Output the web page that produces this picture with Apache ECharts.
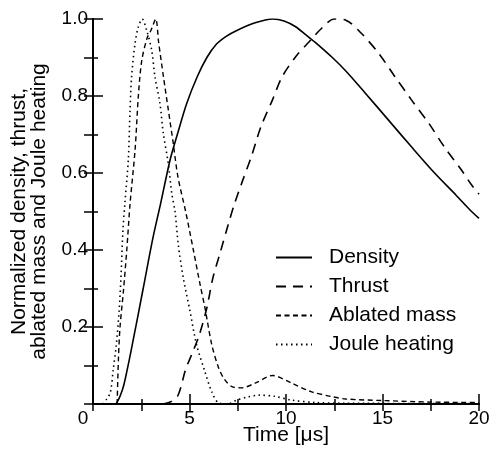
<!DOCTYPE html>
<html>
<head>
<meta charset="utf-8">
<script src="https://cdn.jsdelivr.net/npm/echarts@6/dist/echarts.min.js"></script>
<style>
  html, body { margin: 0; padding: 0; background: #fff; }
  #chart { width: 491px; height: 450px; }
</style>
</head>
<body>
<div id="chart"></div>
<script>
// values: [time in us, normalized value]
const density = [
  [1.2, 0], [1.4, 0.02], [1.6, 0.05], [2.0, 0.145], [2.6, 0.30], [3.1, 0.43],
  [3.5, 0.52], [4.0, 0.635], [4.4, 0.705], [4.85, 0.78], [5.4, 0.85], [5.9, 0.90],
  [6.4, 0.935], [6.9, 0.955], [7.4, 0.969], [8.4, 0.99], [9.3, 1.0], [9.9, 0.995],
  [10.5, 0.98], [11.0, 0.96], [11.5, 0.94], [12.4, 0.90], [13.1, 0.865],
  [14.1, 0.808], [15.3, 0.738], [16.5, 0.668], [17.7, 0.600], [18.8, 0.543],
  [19.5, 0.506], [20, 0.482]
];
const thrust = [
  [3.6, 0], [4.0, 0.005], [4.4, 0.022], [4.8, 0.09], [5.1, 0.127], [5.5, 0.178],
  [5.9, 0.25], [6.2, 0.325], [6.6, 0.395], [7.0, 0.465], [7.3, 0.515], [7.7, 0.573],
  [8.2, 0.642], [8.7, 0.72], [9.3, 0.79], [9.8, 0.85], [10.5, 0.902], [11.2, 0.941],
  [11.85, 0.976], [12.5, 1.0], [13.1, 0.997], [13.9, 0.963], [14.8, 0.911],
  [15.65, 0.85], [16.5, 0.79], [17.4, 0.729], [18.2, 0.668], [19.1, 0.607],
  [19.6, 0.57], [20, 0.545]
];
const ablatedMass = [
  [1.25, 0], [1.32, 0.12], [1.4, 0.2], [1.57, 0.29], [1.75, 0.4], [1.92, 0.52],
  [2.18, 0.66], [2.35, 0.8], [2.52, 0.89], [2.8, 0.95], [3.0, 0.97], [3.25, 1.0],
  [3.4, 0.94], [3.65, 0.85], [3.9, 0.765], [4.15, 0.68], [4.4, 0.59], [4.8, 0.5],
  [5.2, 0.4], [5.55, 0.31], [5.8, 0.25], [6.15, 0.155], [6.5, 0.095], [6.8, 0.065],
  [7.2, 0.045], [7.7, 0.042], [8.4, 0.054], [9.3, 0.074], [10.3, 0.054],
  [11.3, 0.032], [12.4, 0.019], [13.1, 0.013], [15, 0.009], [17.5, 0.005], [20, 0.004]
];
const jouleHeating = [
  [0.5, 0], [0.7, 0.012], [0.9, 0.03], [1.05, 0.09], [1.2, 0.15], [1.35, 0.24],
  [1.45, 0.33], [1.55, 0.45], [1.65, 0.52], [1.83, 0.635], [1.92, 0.765], [2.0, 0.85],
  [2.18, 0.937], [2.35, 0.98], [2.55, 1.0], [2.78, 0.971], [3.04, 0.919], [3.21, 0.85],
  [3.47, 0.78], [3.64, 0.704], [3.9, 0.625], [4.08, 0.547], [4.25, 0.5], [4.42, 0.413],
  [4.68, 0.327], [5.03, 0.24], [5.37, 0.153], [5.8, 0.084], [6.15, 0.032], [6.5, 0.003],
  [7.0, 0], [7.44, 0.01], [8.0, 0.018], [8.6, 0.023], [9.4, 0.02], [10.3, 0.01],
  [11.5, 0.004], [13, 0.002], [20, 0.001]
];
const seriesNames = ['Density', 'Thrust', 'Ablated mass', 'Joule heating'];

const font = 'Liberation Sans, Arial, sans-serif';
const axisLine = { lineStyle: { color: '#000', width: 2 } };

const chart = echarts.init(document.getElementById('chart'));

const line = (name, data, type, width) => ({
  name: name,
  type: 'line',
  data: data,
  symbol: 'none',
  smooth: 0.3,
  color: '#000',
  xAxisIndex: 0,
  yAxisIndex: 0,
  lineStyle: { color: '#000', width: width, type: type, cap: 'butt' }
});

chart.setOption({
  animation: false,
  backgroundColor: '#fff',
  grid: { left: 93, right: 12, top: 19, bottom: 46, outerBoundsMode: 'none', containLabel: false },
  legend: {
    orient: 'vertical',
    left: 275,
    top: 247,
    padding: 0,
    itemWidth: 36,
    itemHeight: 20,
    itemGap: 8,
    data: seriesNames,
    itemStyle: { color: 'rgba(0,0,0,0)', borderWidth: 0, opacity: 0 },
    textStyle: { color: '#000', fontSize: 21, fontFamily: font, lineHeight: 20, padding: [0, 0, 0, 12] }
  },
  xAxis: [{
    type: 'value',
    min: 0, max: 20, interval: 5,
    name: 'Time [μs]',
    nameLocation: 'middle',
    nameGap: 21,
    nameMoveOverlap: false,
    nameTextStyle: { color: '#000', fontSize: 21, fontFamily: font },
    axisLine: axisLine,
    axisTick: { inside: true, length: 10, lineStyle: { color: '#000', width: 1.5 } },
    minorTick: { show: true, splitNumber: 2, length: 5, lineStyle: { color: '#000', width: 1.5 } },
    splitLine: { show: false },
    axisLabel: {
      color: '#000', fontSize: 19, fontFamily: font, margin: 5,
      formatter: v => v === 0 ? '{z|0}' : String(v),
      rich: { z: { fontSize: 19, fontFamily: font, color: '#000', padding: [0, 20, 0, 0] } }
    }
  }, {
    type: 'value',
    position: 'top',
    min: 0, max: 20, interval: 2.5,
    axisLine: axisLine,
    axisTick: { inside: true, length: 7, lineStyle: { color: '#000', width: 1.5 } },
    axisLabel: { show: false },
    splitLine: { show: false }
  }],
  yAxis: [{
    type: 'value',
    min: 0, max: 1, interval: 0.2,
    name: 'Normalized density, thrust,\nablated mass and Joule heating',
    nameLocation: 'middle',
    nameGap: 44,
    nameMoveOverlap: false,
    nameTextStyle: { color: '#000', fontSize: 21, fontFamily: font, lineHeight: 20 },
    axisLine: axisLine,
    axisTick: { inside: true, length: 10, lineStyle: { color: '#000', width: 1.5 } },
    minorTick: { show: true, splitNumber: 2, length: 5, lineStyle: { color: '#000', width: 1.5 } },
    splitLine: { show: false },
    axisLabel: {
      color: '#000', fontSize: 19, fontFamily: font, margin: 5,
      formatter: v => v === 0 ? '' : v.toFixed(1)
    }
  }, {
    type: 'value',
    position: 'right',
    min: 0, max: 1, interval: 0.1,
    axisLine: axisLine,
    axisTick: { inside: true, length: 9, lineStyle: { color: '#000', width: 1.5 } },
    axisLabel: { show: false },
    splitLine: { show: false }
  }],
  series: [
    line(seriesNames[0], density, 'solid', 1.6),
    line(seriesNames[1], thrust, [10, 7], 1.6),
    line(seriesNames[2], ablatedMass, [5, 3.5], 1.4),
    line(seriesNames[3], jouleHeating, [1.5, 3.5], 1.6)
  ]
});
</script>
</body>
</html>
